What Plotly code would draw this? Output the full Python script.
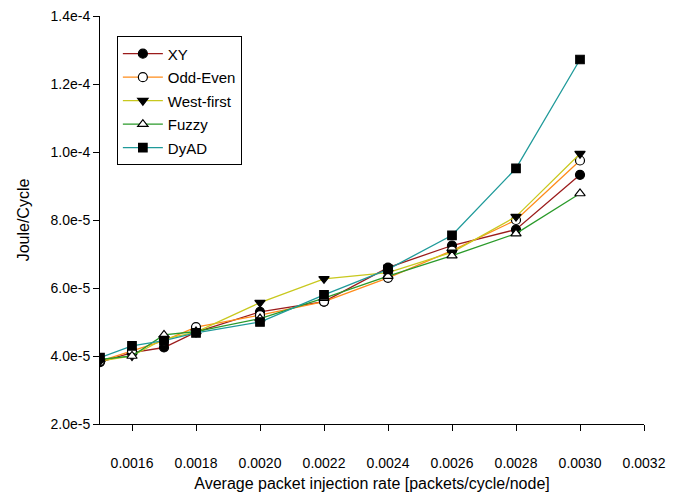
import plotly.graph_objects as go

rate = [0.0015, 0.0016, 0.0017, 0.0018, 0.0020, 0.0022, 0.0024, 0.0026, 0.0028, 0.0030]
xy = [3.82e-5, 4.10e-5, 4.25e-5, 4.70e-5, 5.30e-5, 5.60e-5, 6.60e-5, 7.25e-5, 7.72e-5, 9.33e-5]
odd_even = [3.85e-5, 4.15e-5, 4.45e-5, 4.85e-5, 5.20e-5, 5.60e-5, 6.30e-5, 7.10e-5, 8.00e-5, 9.75e-5]
west_first = [3.85e-5, 4.00e-5, 4.50e-5, 4.70e-5, 5.57e-5, 6.27e-5, 6.45e-5, 7.05e-5, 8.10e-5, 9.95e-5]
fuzzy = [3.90e-5, 4.00e-5, 4.62e-5, 4.72e-5, 5.10e-5, 5.70e-5, 6.35e-5, 6.95e-5, 7.60e-5, 8.78e-5]
dyad = [3.95e-5, 4.30e-5, 4.45e-5, 4.68e-5, 5.00e-5, 5.80e-5, 6.55e-5, 7.55e-5, 9.52e-5, 1.272e-4]

x_ticks = [0.0016, 0.0018, 0.0020, 0.0022, 0.0024, 0.0026, 0.0028, 0.0030, 0.0032]
x_labels = ["0.0016", "0.0018", "0.0020", "0.0022", "0.0024", "0.0026", "0.0028", "0.0030", "0.0032"]
y_ticks = [2e-5, 4e-5, 6e-5, 8e-5, 1e-4, 1.2e-4, 1.4e-4]
y_labels = ["2.0e-5", "4.0e-5", "6.0e-5", "8.0e-5", "1.0e-4", "1.2e-4", "1.4e-4"]

series = [
    ("XY", xy, "#9B1B1B", "circle", "black"),
    ("Odd-Even", odd_even, "#FF8C1A", "circle", "white"),
    ("West-first", west_first, "#C8C81E", "triangle-down", "black"),
    ("Fuzzy", fuzzy, "#2A9A2A", "triangle-up", "white"),
    ("DyAD", dyad, "#1F9A9A", "square", "black"),
]

fig = go.Figure()
for i, (name, vals, col, sym, fill) in enumerate(series):
    fig.add_trace(go.Scatter(
        x=rate, y=vals, name=name, mode="lines+markers", legendgroup=f"g{i}",
        line=dict(color=col, width=1.3),
        marker=dict(symbol=sym, size=9 if sym != "square" else 8.5, color=fill,
                    line=dict(color="black", width=1.2)),
    ))

fig.update_layout(
    width=686, height=492,
    margin=dict(l=100, r=42, t=16, b=68),
    paper_bgcolor="white", plot_bgcolor="white",
    font=dict(family="Liberation Sans, Arial, sans-serif", color="black", size=14),
    showlegend=True,
    legend=dict(x=0.031, y=0.95, xanchor="left", yanchor="top",
                bordercolor="black", borderwidth=1, bgcolor="white",
                font=dict(size=15), traceorder="grouped", tracegroupgap=1,
                itemwidth=40),
    xaxis=dict(range=[0.0015, 0.0032], tickvals=x_ticks, ticktext=x_labels,
               showgrid=False, zeroline=False, showline=True, linecolor="black",
               linewidth=1, ticks="outside", ticklen=6, tickcolor="black",
               ticklabelstandoff=20, automargin=False,
               title=dict(text="Average packet injection rate [packets/cycle/node]",
                          font=dict(size=16), standoff=12)),
    yaxis=dict(range=[2e-5, 1.4e-4], tickvals=y_ticks, ticktext=y_labels,
               showgrid=False, zeroline=False, showline=True, linecolor="black",
               linewidth=1, ticks="outside", ticklen=6, tickcolor="black",
               automargin=False,
               title=dict(text="Joule/Cycle", font=dict(size=16), standoff=16)),
)

fig.write_html("out.html")
